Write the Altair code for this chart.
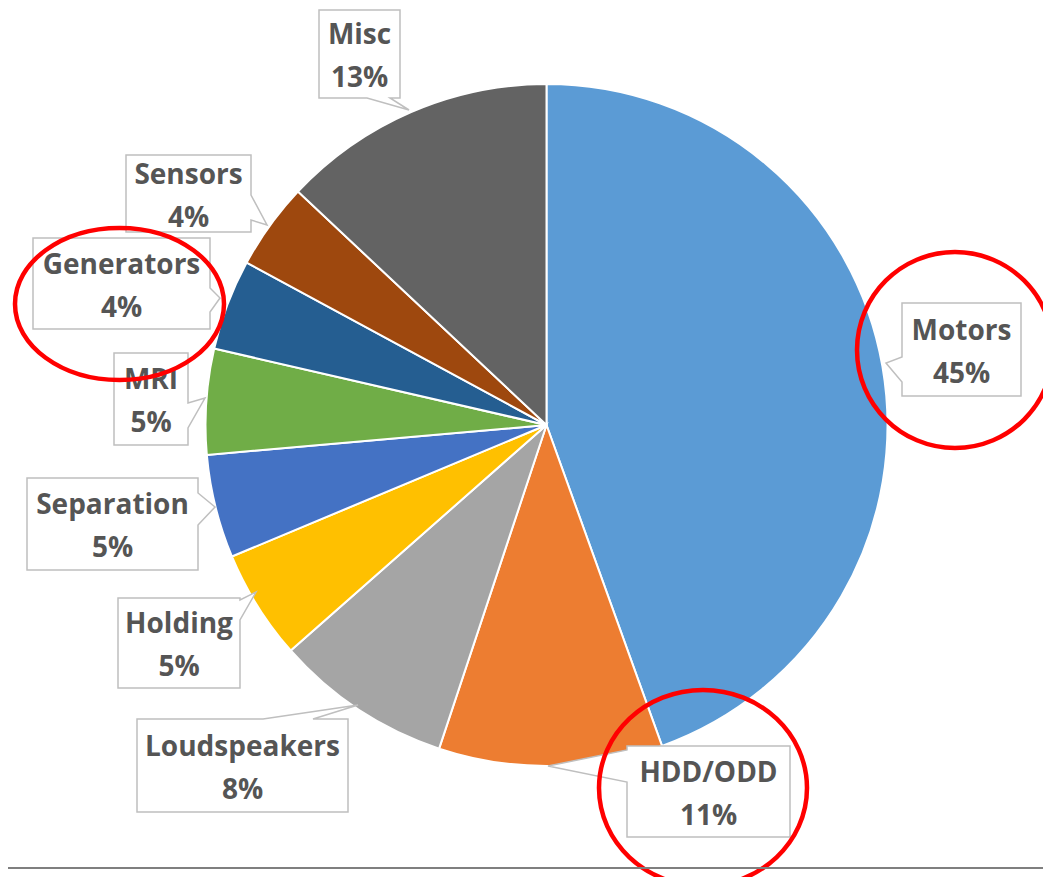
import altair as alt
import pandas as pd

# ---- data ----
categories = ["Motors", "HDD/ODD", "Loudspeakers", "Holding", "Separation",
              "MRI", "Generators", "Sensors", "Misc"]
shares = [44.5, 10.6, 8.4, 5.2, 4.9, 5.0, 4.3, 4.1, 13.0]
pct_labels = ["45%", "11%", "8%", "5%", "5%", "5%", "4%", "4%", "13%"]
colors = ["#5B9BD5", "#ED7D31", "#A5A5A5", "#FFC000", "#4472C4",
          "#70AD47", "#255E91", "#9E480E", "#636363"]

# ---- layout (page pixel coordinates) ----
OFF = 8
W, H = 1035, 869
CX, CY, R = 546.5 - OFF, 425 - OFF, 341

# box x1, y1, x2, y2, tail edge, tail start, tail end, tip
callouts = {
    "Motors":       (902, 303, 1021, 396, "left", 357, 382, (886, 363)),
    "HDD/ODD":      (627, 746, 790, 837, "left", 750, 782, (548, 766)),
    "Loudspeakers": (137, 719, 348, 812, "top", 263, 313, (358, 705)),
    "Holding":      (118, 598, 240, 688, "right", 600, 620, (256, 592)),
    "Separation":   (27, 478, 198, 570, "right", 493, 525, (215, 507)),
    "MRI":          (114, 353, 188, 445, "right", 403, 428, (205, 398)),
    "Generators":   (33, 238, 210, 329, "right", 288, 312, (220, 298)),
    "Sensors":      (126, 155, 251, 232, "right", 195, 220, (267, 225)),
    "Misc":         (319, 10, 400, 98, "bottom", 367, 390, (409, 110)),
}

# red highlight ellipses: cx, cy, rx, ry
ellipses = [(119.5, 304, 104.5, 76), (955, 350, 98, 98), (703, 788, 104, 98)]


def callout_path(x1, y1, x2, y2, edge, a, b, tip):
    cx, cy = (x1 + x2) / 2, (y1 + y2) / 2
    tx, ty = tip
    P = lambda x, y: f"{x - cx:.1f} {y - cy:.1f}"
    if edge == "right":
        pts = [P(x1, y1), P(x2, y1), P(x2, a), P(tx, ty), P(x2, b), P(x2, y2), P(x1, y2)]
    elif edge == "left":
        pts = [P(x1, y1), P(x2, y1), P(x2, y2), P(x1, y2), P(x1, b), P(tx, ty), P(x1, a)]
    elif edge == "top":
        pts = [P(x1, y1), P(a, y1), P(tx, ty), P(b, y1), P(x2, y1), P(x2, y2), P(x1, y2)]
    else:  # bottom
        pts = [P(x1, y1), P(x2, y1), P(x2, y2), P(b, y2), P(tx, ty), P(a, y2), P(x1, y2)]
    return "M " + " L ".join(pts) + " Z"


def ellipse_path(rx, ry):
    k = 0.5523
    return (f"M {-rx} 0 C {-rx} {-k*ry:.2f} {-k*rx:.2f} {-ry} 0 {-ry} "
            f"C {k*rx:.2f} {-ry} {rx} {-k*ry:.2f} {rx} 0 "
            f"C {rx} {k*ry:.2f} {k*rx:.2f} {ry} 0 {ry} "
            f"C {-k*rx:.2f} {ry} {-rx} {k*ry:.2f} {-rx} 0 Z")


pie_df = pd.DataFrame({"category": categories, "share": shares,
                       "idx": list(range(len(categories)))})

rows = []
for cat, pct in zip(categories, pct_labels):
    x1, y1, x2, y2, edge, a, b, tip = callouts[cat]
    cx, cy = (x1 + x2) / 2, (y1 + y2) / 2
    rows.append({"category": cat, "pct": pct,
                 "x": cx - OFF, "y": cy - OFF,
                 "y1": cy - 10 - OFF, "y2": cy + 33 - OFF,
                 "path": callout_path(x1, y1, x2, y2, edge, a, b, tip)})
lab_df = pd.DataFrame(rows)

ell_df = pd.DataFrame([{"x": ex - OFF, "y": ey - OFF, "path": ellipse_path(rx, ry)}
                       for ex, ey, rx, ry in ellipses])

pie = alt.Chart(pie_df).mark_arc(radius=R, stroke="white", strokeWidth=2).encode(
    theta=alt.Theta("share:Q", stack=True),
    order=alt.Order("idx:Q"),
    color=alt.Color("category:N", scale=alt.Scale(domain=categories, range=colors), legend=None),
    x=alt.value(CX), y=alt.value(CY),
)

boxes = alt.Chart(lab_df).mark_point(filled=True, fill="white", stroke="#BFBFBF",
                                     strokeWidth=1.5, opacity=1).encode(
    x=alt.X("x:Q", scale=None), y=alt.Y("y:Q", scale=None),
    shape=alt.Shape("path:N", scale=None), size=alt.value(4),
)

txt_font = dict(font="Open Sans", fontSize=28, fontWeight="bold", color="#555555",
                align="center", baseline="alphabetic")
names = alt.Chart(lab_df).mark_text(**txt_font).encode(
    x=alt.X("x:Q", scale=None), y=alt.Y("y1:Q", scale=None), text="category:N")
pcts = alt.Chart(lab_df).mark_text(**txt_font).encode(
    x=alt.X("x:Q", scale=None), y=alt.Y("y2:Q", scale=None), text="pct:N")

rings = alt.Chart(ell_df).mark_point(filled=False, stroke="#FF0000", strokeWidth=4.5,
                                     opacity=1).encode(
    x=alt.X("x:Q", scale=None), y=alt.Y("y:Q", scale=None),
    shape=alt.Shape("path:N", scale=None), size=alt.value(4),
)

base_line = alt.Chart(pie_df).mark_rule(color="#7F7F7F", strokeWidth=1.5).encode(
    x=alt.value(0), x2=alt.value(W), y=alt.value(868 - OFF))

chart = alt.layer(pie, boxes, names, pcts, rings, base_line).properties(
    width=W, height=H, padding=0, autosize=alt.AutoSizeParams(type="none"),
    background="white",
).configure_view(stroke=None)

chart.save("out.html", embed_options={"renderer": "svg", "actions": False})
